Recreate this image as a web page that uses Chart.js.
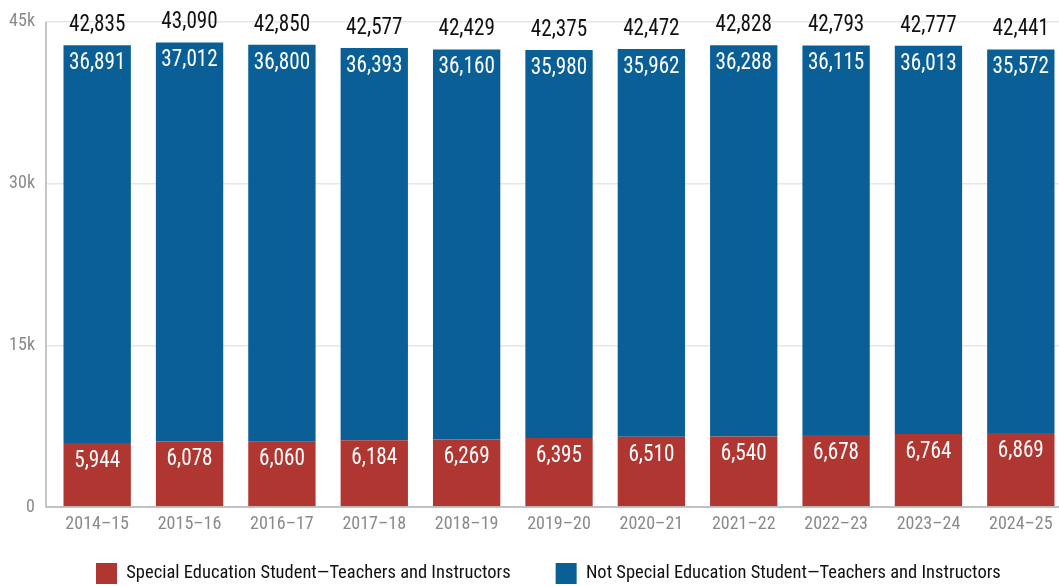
<!DOCTYPE html>
<html>
<head>
<meta charset="utf-8">
<script src="https://cdn.jsdelivr.net/npm/chart.js@4/dist/chart.umd.min.js"></script>
<style>
  html, body { margin: 0; padding: 0; background: #fff; overflow: hidden; }
  #wrap { width: 1070px; height: 586px; position: relative; }
</style>
</head>
<body>
<div id="wrap"><canvas id="chart"></canvas></div>
<script>
// School years on the x axis
const years = ['2014–15', '2015–16', '2016–17', '2017–18', '2018–19', '2019–20',
               '2020–21', '2021–22', '2022–23', '2023–24', '2024–25'];

// Teachers and instructors of special education students
const specialEd = [5944, 6078, 6060, 6184, 6269, 6395, 6510, 6540, 6678, 6764, 6869];

// Teachers and instructors of all other students
const notSpecialEd = [36891, 37012, 36800, 36393, 36160, 35980, 35962, 36288, 36115, 36013, 35572];

// Totals printed above each bar
const totals = [42835, 43090, 42850, 42577, 42429, 42375, 42472, 42828, 42793, 42777, 42441];

// Value axis ticks
const yTicks = [0, 15000, 30000, 45000];

const FONT = '"Roboto Condensed", "Open Sans", sans-serif';
const fmt = v => v.toLocaleString('en-US');

// The category axis box is kept short so the legend sits close below it;
// let its tick labels draw past the box instead of being clipped.
const looseXLabels = {
  id: 'looseXLabels',
  afterLayout(chart) {
    chart.scales.x.bottom = chart.height;
  }
};

// Axis lines drawn a few pixels left of the plot, where the gridlines start
const axisLines = {
  id: 'axisLines',
  afterDraw(chart) {
    const { ctx, chartArea } = chart;
    const y = chart.scales.y;
    const left = chartArea.left - 5;
    ctx.save();
    ctx.strokeStyle = '#b5b5b5';
    ctx.lineWidth = 1.5;
    ctx.beginPath();
    ctx.moveTo(left, y.getPixelForValue(45000));
    ctx.lineTo(left, y.getPixelForValue(0));
    ctx.lineTo(chartArea.right, y.getPixelForValue(0));
    ctx.stroke();
    ctx.restore();
  }
};

// Narrowed label text, centred on (x, y)
function narrowText(ctx, text, x, y) {
  ctx.save();
  ctx.translate(x, y);
  ctx.scale(0.92, 1);
  ctx.fillText(text, 0, 0);
  ctx.restore();
}

// Value labels inside each segment and totals above each stack
const barLabels = {
  id: 'barLabels',
  afterDatasetsDraw(chart) {
    const { ctx } = chart;
    ctx.save();
    ctx.textAlign = 'center';
    ctx.textBaseline = 'middle';
    ctx.font = '23px ' + FONT;
    chart.data.datasets.forEach((ds, di) => {
      const meta = chart.getDatasetMeta(di);
      meta.data.forEach((bar, i) => {
        ctx.fillStyle = '#ffffff';
        narrowText(ctx, fmt(ds.data[i]), bar.x, bar.y + 18);
      });
    });
    const topMeta = chart.getDatasetMeta(chart.data.datasets.length - 1);
    topMeta.data.forEach((bar, i) => {
      ctx.fillStyle = '#111111';
      narrowText(ctx, fmt(totals[i]), bar.x, bar.y - 20);
    });
    ctx.restore();
  }
};

new Chart(document.getElementById('chart'), {
  type: 'bar',
  data: {
    labels: years,
    datasets: [
      {
        label: 'Special Education Student—Teachers and Instructors',
        data: specialEd,
        backgroundColor: '#b03731',
        categoryPercentage: 0.81,
        barPercentage: 0.9
      },
      {
        label: 'Not Special Education Student—Teachers and Instructors',
        data: notSpecialEd,
        backgroundColor: '#0a6096',
        categoryPercentage: 0.81,
        barPercentage: 0.9
      }
    ]
  },
  options: {
    responsive: true,
    maintainAspectRatio: false,
    animation: false,
    layout: { padding: { top: 19, right: 3, left: 0, bottom: -8 } },
    plugins: {
      tooltip: { enabled: false },
      legend: {
        position: 'bottom',
        fullSize: false,
        align: 'start',
        labels: {
          boxWidth: 21,
          boxHeight: 21,
          padding: 45,
          color: '#111',
          font: { family: FONT, size: 18.5 }
        }
      }
    },
    scales: {
      x: {
        stacked: true,
        grid: { display: false, drawTicks: false },
        border: { display: false },
        ticks: { color: '#8a8a8a', font: { family: FONT, size: 18 }, padding: 7 },
        afterFit(scale) { scale.height = 11; }
      },
      y: {
        stacked: true,
        min: 0,
        max: 45000,
        afterBuildTicks(scale) { scale.ticks = yTicks.map(v => ({ value: v })); },
        grid: { color: '#e6e6e6', lineWidth: 1.5, drawTicks: true, tickLength: 5 },
        border: { display: false },
        ticks: {
          color: '#8a8a8a',
          padding: 11,
          font: { family: FONT, size: 18 },
          callback: v => v === 0 ? '0' : (v / 1000) + 'k'
        },
        afterFit(scale) { scale.width = 51; }
      }
    }
  },
  plugins: [looseXLabels, axisLines, barLabels]
});
</script>
</body>
</html>
